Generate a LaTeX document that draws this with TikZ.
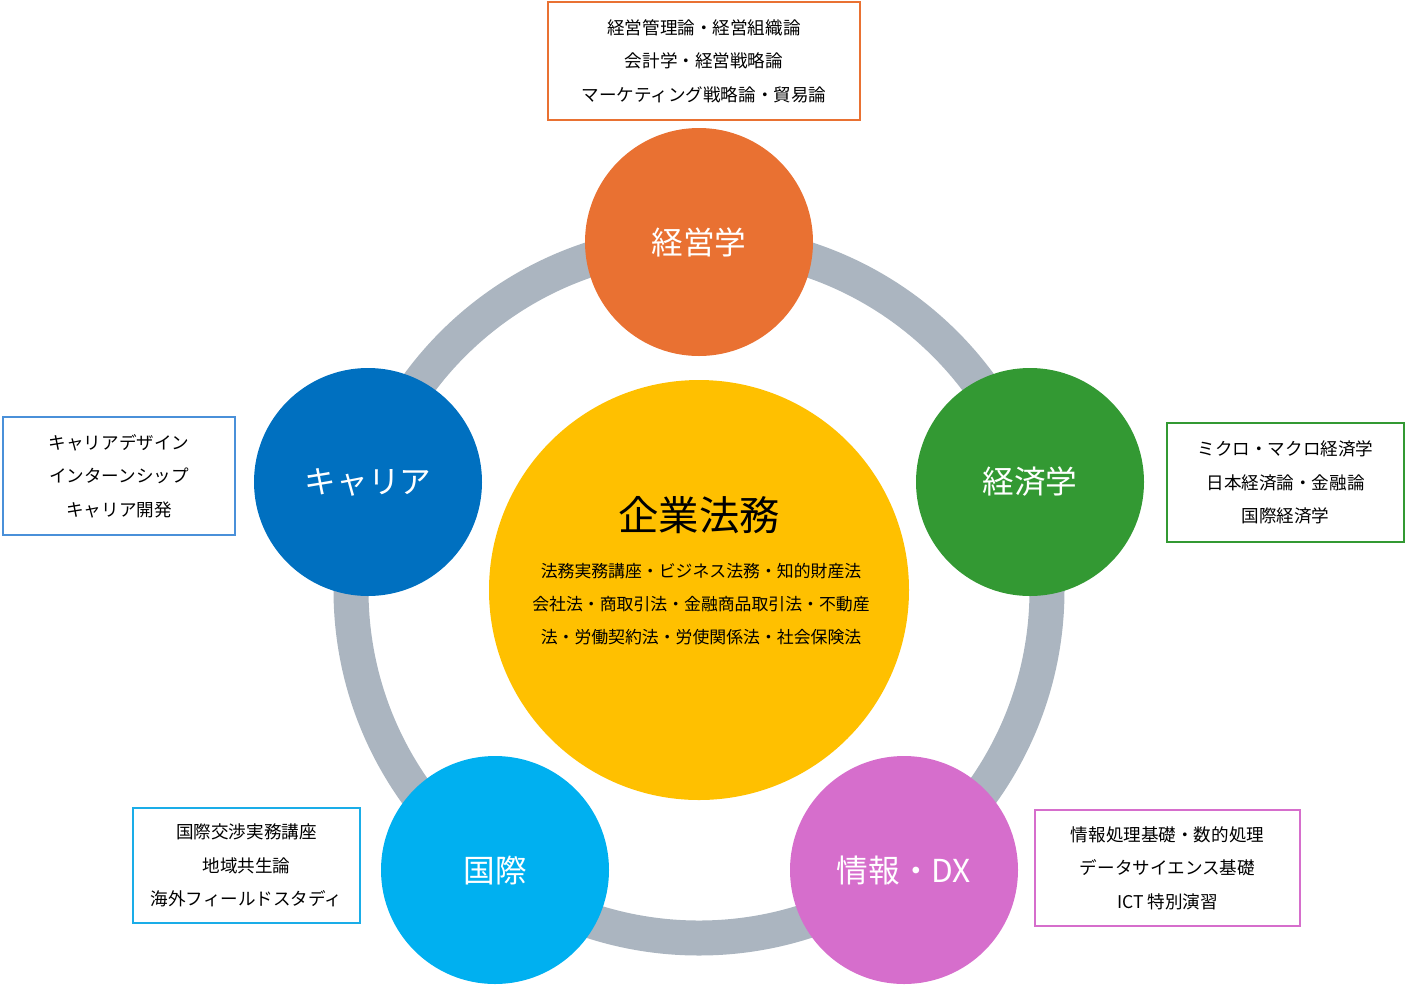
\documentclass[tikz,border=0pt]{standalone}
\usepackage{fontspec}
\setmainfont{Noto Sans CJK JP}
\definecolor{cor}{HTML}{E97132}
\definecolor{cgr}{HTML}{339933}
\definecolor{cmg}{HTML}{D66ECC}
\definecolor{clb}{HTML}{00B0F0}
\definecolor{cbl}{HTML}{0070C0}
\definecolor{cye}{HTML}{FFC000}
\definecolor{cgy}{HTML}{ABB5C0}
\definecolor{cbx}{HTML}{4A90D9}
\definecolor{clbx}{HTML}{1AADE8}
\tikzset{sat/.style={circle,minimum size=228*0.02cm,inner sep=0,text=white,font=\fontsize{18}{20}\selectfont},
 box/.style={draw,line width=1.6pt,fill=white,align=center,inner sep=0,font=\fontsize{10}{19}\selectfont}}
\begin{document}
\begin{tikzpicture}[x=0.02cm,y=-0.02cm]
\useasboundingbox (0,0) rectangle (1406,988);
\node[circle,draw=cgy,line width=0.7cm,minimum size=696*0.02cm,inner sep=0] (ring) at (699,590) {};
\node[circle,fill=cye,minimum size=420*0.02cm,inner sep=0] (main) at (699,590) {};
\node[font=\fontsize{23}{26}\selectfont] (mt) at (699,515) {企業法務};
\node[align=center,font=\fontsize{9.6}{19}\selectfont] (mb) at (701,604) {法務実務講座・ビジネス法務・知的財産法\\会社法・商取引法・金融商品取引法・不動産\\法・労働契約法・労使関係法・社会保険法};
\node[sat,fill=cor] (a) at (699,242) {経営学};
\node[sat,fill=cgr] (b) at (1030,482) {経済学};
\node[sat,fill=cmg] (c) at (904,870) {情報・DX};
\node[sat,fill=clb] (d) at (495,870) {国際};
\node[sat,fill=cbl] (e) at (368,482) {キャリア};
\node[box,draw=cor,minimum width=312*0.02cm,minimum height=118*0.02cm] (ba) at (704,61) {経営管理論・経営組織論\\会計学・経営戦略論\\マーケティング戦略論・貿易論};
\node[box,draw=cgr,minimum width=237*0.02cm,minimum height=119*0.02cm] (bb) at (1285.5,482.5) {ミクロ・マクロ経済学\\日本経済論・金融論\\国際経済学};
\node[box,draw=cmg,minimum width=265*0.02cm,minimum height=116*0.02cm] (bc) at (1167.5,868) {情報処理基礎・数的処理\\データサイエンス基礎\\ICT 特別演習};
\node[box,draw=clbx,minimum width=227*0.02cm,minimum height=115*0.02cm] (bd) at (246.5,865.5) {国際交渉実務講座\\地域共生論\\海外フィールドスタディ};
\node[box,draw=cbx,minimum width=232*0.02cm,minimum height=118*0.02cm] (be) at (119,476) {キャリアデザイン\\インターンシップ\\キャリア開発};
\end{tikzpicture}
\end{document}
